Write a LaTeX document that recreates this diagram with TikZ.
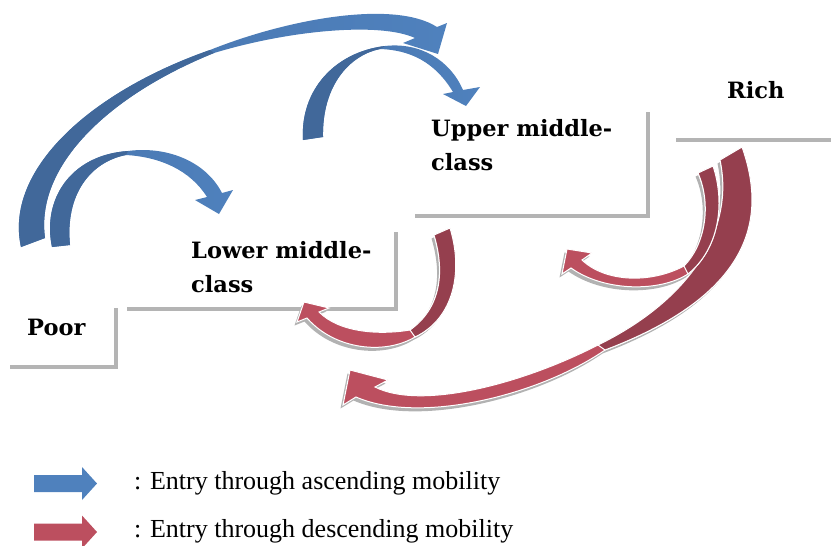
\documentclass[tikz,border=0pt]{standalone}
\usepackage{fontspec}
\setmainfont{Liberation Serif}
\newfontfamily\classfont{DejaVu Serif}
\usepackage{tikz}
\usetikzlibrary{shadows}

\definecolor{bluelight}{HTML}{4F81BD}
\definecolor{bluemid}{HTML}{4875AE}
\definecolor{bluedark}{HTML}{41689A}
\definecolor{redlight}{HTML}{BC4F5F}
\definecolor{reddark}{HTML}{953F4E}
\definecolor{stepgray}{HTML}{B4B4B4}

\tikzset{
  stepline/.style={stepgray, line width=4.5pt},
  classlabel/.style={font=\classfont\bfseries\fontsize{22.5}{34}\selectfont, align=left, anchor=base west, inner sep=0pt},
  legendtext/.style={font=\fontsize{26}{30}\selectfont, anchor=base west, inner sep=0pt},
  uparrow/.style={left color=bluemid, right color=bluelight},
  downarrow/.style={fill=redlight, draw=white, line width=1pt,
    drop shadow={shadow xshift=-2.5pt, shadow yshift=-3.5pt, fill=black!30, opacity=1}},
  downback/.style={fill=reddark, draw=white, line width=1pt},
}

\begin{document}
\begin{tikzpicture}[x=1pt,y=-1pt]
  \useasboundingbox (0,0) rectangle (831,546);

  % steps
  \draw[stepline] (10,367) -| (116,308);
  \draw[stepline] (127,309) -| (396,232);
  \draw[stepline] (415,216) -| (648,112);
  \draw[stepline] (676,140) -- (831,140);

  % base of a two-line label is the base of its last line
  \node[classlabel] (poor) at (27,335) {Poor};
  \node[classlabel] (lower) at (191,292) {Lower middle-\\class};
  \node[classlabel] (upper) at (431,170) {Upper middle-\\class};
  \node[classlabel] (rich) at (727,98) {Rich};

  % ascending
  \shade[uparrow] (303,140) .. controls (300,90) and (335,52) .. (385,46)
    .. controls (420,42) and (450,60) .. (463,90)
    -- (480,87) -- (466,106) -- (443,94) -- (453,92)
    .. controls (435,62) and (410,50) .. (380,49)
    .. controls (350,55) and (322,85) .. (323,137) -- cycle;
  \fill[bluedark] (303,140) .. controls (300,90) and (335,52) .. (385,46)
    -- (380,49) .. controls (350,55) and (322,85) .. (323,137) -- cycle;

  \shade[uparrow] (21,247) .. controls (4,170) and (90,92) .. (210,50)
    .. controls (290,18) and (395,0) .. (437,27)
    -- (447,23) -- (438,54) -- (403,43) -- (415,38)
    .. controls (380,22) and (290,30) .. (214,53)
    .. controls (110,95) and (35,165) .. (45,238) -- cycle;
  \fill[bluedark] (21,247) .. controls (4,170) and (90,92) .. (210,50)
    -- (214,53) .. controls (110,95) and (35,165) .. (45,238) -- cycle;

  \shade[uparrow] (52,247) .. controls (42,200) and (70,155) .. (128,151)
    .. controls (165,146) and (205,160) .. (222,193)
    -- (233,190) -- (219,214) -- (195,200) -- (207,197)
    .. controls (190,170) and (160,157) .. (126,155)
    .. controls (90,162) and (65,195) .. (70,245) -- cycle;
  \fill[bluedark] (52,247) .. controls (42,200) and (70,155) .. (128,151)
    -- (126,155) .. controls (90,162) and (65,195) .. (70,245) -- cycle;

  % descending
  \filldraw[downarrow] (450,228) .. controls (463,270) and (455,318) .. (415,337)
    .. controls (385,355) and (335,350) .. (307,318)
    -- (297,322) -- (304,302) -- (329,308) -- (319,312)
    .. controls (340,333) and (380,335) .. (410,330)
    .. controls (445,305) and (443,265) .. (434,235) -- cycle;
  \filldraw[downback] (450,228) .. controls (463,270) and (455,318) .. (415,337)
    -- (410,330) .. controls (445,305) and (443,265) .. (434,235) -- cycle;

  \filldraw[downarrow] (742,147) .. controls (768,220) and (750,295) .. (605,350)
    .. controls (540,395) and (420,425) .. (356,397)
    -- (343,405) -- (350,370) -- (388,380) -- (375,387)
    .. controls (420,410) and (520,385) .. (598,345)
    .. controls (690,300) and (735,230) .. (720,160) -- cycle;
  \filldraw[downback] (742,147) .. controls (768,220) and (750,295) .. (605,350)
    -- (598,345) .. controls (690,300) and (735,230) .. (720,160) -- cycle;

  \filldraw[downarrow] (713,166) .. controls (726,205) and (718,250) .. (688,274)
    .. controls (660,292) and (605,292) .. (571,268)
    -- (562,274) -- (567,249) -- (592,253) -- (582,260)
    .. controls (605,282) and (650,284) .. (684,266)
    .. controls (705,245) and (712,205) .. (698,173) -- cycle;
  \filldraw[downback] (713,166) .. controls (726,205) and (718,250) .. (688,274)
    -- (684,266) .. controls (705,245) and (712,205) .. (698,173) -- cycle;

  % legend
  \fill[bluelight] (34,475) -- (82,475) -- (82,467) -- (97,483.5) -- (82,500) -- (82,492) -- (34,492) -- cycle;
  \fill[redlight] (34,523.5) -- (82,523.5) -- (82,515.5) -- (97,532) -- (82,548.5) -- (82,540.5) -- (34,540.5) -- cycle;
  \node[legendtext] (ascend) at (134,489) {: Entry through ascending mobility};
  \node[legendtext] (descend) at (134,537) {: Entry through descending mobility};
\end{tikzpicture}
\end{document}
